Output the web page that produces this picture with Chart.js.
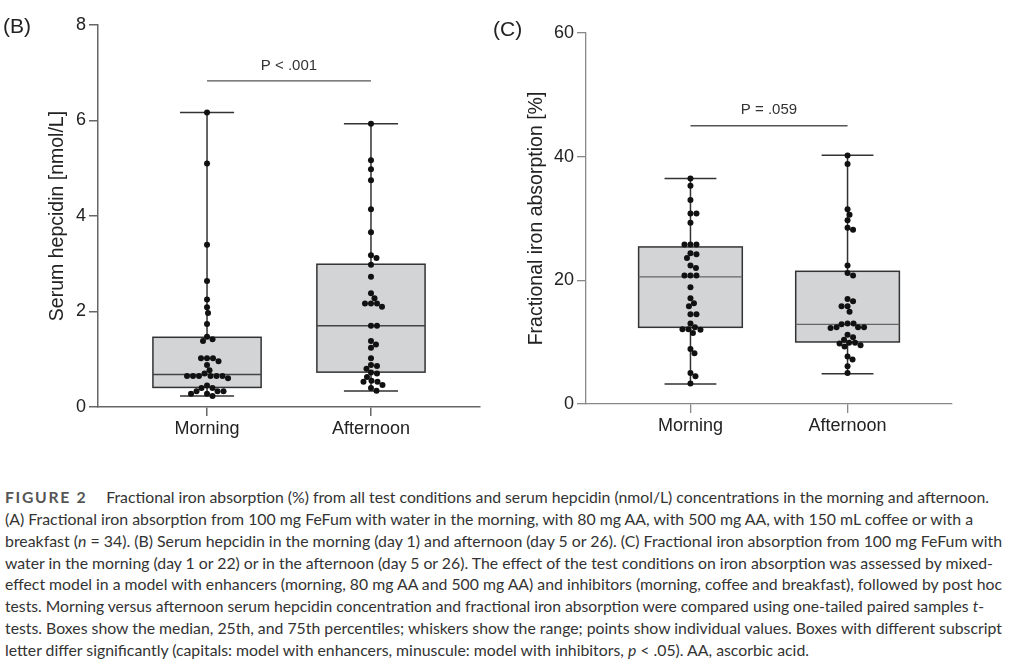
<!DOCTYPE html>
<html>
<head>
<meta charset="utf-8">
<script src="https://cdn.jsdelivr.net/npm/chart.js@4.4.1/dist/chart.umd.min.js"></script>
<style>
  html, body { margin: 0; padding: 0; background: #fff; }
  body { width: 1010px; height: 660px; position: relative; overflow: hidden; }
  .panel { position: absolute; top: 0; height: 460px; }
  .plabel { position: absolute; font-family: "Liberation Sans", Arial, sans-serif; font-size: 21px; color: #222; line-height: 24px; }
  .cap { position: absolute; left: 5px; white-space: nowrap; font-family: Lato, sans-serif; font-size: 15px; line-height: 20px; color: #333; transform-origin: 0 0; }
  .fig { font-weight: bold; color: #555; letter-spacing: 1.6px; margin-right: 18px; }
</style>
</head>
<body>
<div class="panel" style="left:0; width:490px;"><canvas id="chartB"></canvas></div>
<div class="panel" style="left:490px; width:520px;"><canvas id="chartC"></canvas></div>
<div class="plabel" style="left:3px; top:14px;">(B)</div>
<div class="plabel" style="left:493px; top:17px;">(C)</div>

<div class="cap" data-w="984" style="top:487px;"><span class="fig">FIGURE 2</span>Fractional iron absorption (%) from all test conditions and serum hepcidin (nmol/L) concentrations in the morning and afternoon.</div>
<div class="cap" data-w="968" style="top:509px;">(A) Fractional iron absorption from 100 mg FeFum with water in the morning, with 80 mg AA, with 500 mg AA, with 150 mL coffee or with a</div>
<div class="cap" data-w="997" style="top:531px;">breakfast (<i>n</i> = 34). (B) Serum hepcidin in the morning (day 1) and afternoon (day 5 or 26). (C) Fractional iron absorption from 100 mg FeFum with</div>
<div class="cap" data-w="988" style="top:553px;">water in the morning (day 1 or 22) or in the afternoon (day 5 or 26). The effect of the test conditions on iron absorption was assessed by mixed-</div>
<div class="cap" data-w="997" style="top:574px;">effect model in a model with enhancers (morning, 80 mg AA and 500 mg AA) and inhibitors (morning, coffee and breakfast), followed by post hoc</div>
<div class="cap" data-w="979" style="top:596px;">tests. Morning versus afternoon serum hepcidin concentration and fractional iron absorption were compared using one-tailed paired samples <i>t</i>-</div>
<div class="cap" data-w="997" style="top:618px;">tests. Boxes show the median, 25th, and 75th percentiles; whiskers show the range; points show individual values. Boxes with different subscript</div>
<div class="cap" data-w="804" style="top:640px;">letter differ significantly (capitals: model with enhancers, minuscule: model with inhibitors, <i>p</i> &lt; .05). AA, ascorbic acid.</div>

<script>
// ---------------- DATA ----------------
const categories = ['Morning', 'Afternoon'];

// Panel B: serum hepcidin [nmol/L]
const hepMorning = [6.17, 5.10, 3.40, 2.64, 2.25, 2.09, 1.97, 1.74, 1.47, 1.42, 1.38,
  1.02, 1.02, 1.02, 0.96, 0.88, 0.77, 0.70, 0.65, 0.65, 0.65, 0.65, 0.65, 0.65, 0.60,
  0.45, 0.40, 0.40, 0.33, 0.33, 0.33, 0.28, 0.28, 0.23];
const hepAfternoon = [5.93, 5.17, 4.98, 4.75, 4.14, 3.66, 3.18, 3.12, 2.98, 2.73,
  2.38, 2.28, 2.17, 2.17, 2.17, 2.10, 1.70, 1.70, 1.38, 1.31, 1.24, 1.02,
  0.88, 0.86, 0.80, 0.72, 0.70, 0.63, 0.55, 0.53, 0.53, 0.46, 0.40, 0.34];
const hepMin = [0.23, 0.335];
const hepQ1 = [0.41, 0.73];
const hepMedian = [0.68, 1.70];
const hepQ3 = [1.46, 2.99];
const hepMax = [6.17, 5.93];
const hepTicks = [0, 2, 4, 6, 8];
const hepPText = 'P < .001';
const hepPLevel = 6.83;

// Panel C: fractional iron absorption [%]
const fiaMorning = [36.45, 35.3, 33.0, 30.8, 30.8, 29.3, 25.8, 25.8, 25.8, 24.4, 24.2,
  23.6, 22.4, 22.0, 20.8, 20.8, 20.8, 18.9, 17.1, 16.3, 15.8, 14.5, 14.5, 13.0, 12.4,
  12.1, 12.1, 12.0, 11.5, 8.9, 8.2, 5.0, 4.5, 3.3];
const fiaAfternoon = [40.2, 38.8, 31.5, 30.6, 29.7, 28.5, 28.2, 22.4, 21.2, 20.8,
  17.0, 16.6, 15.8, 15.8, 14.9, 13.0, 13.0, 12.9, 12.4, 12.4, 12.4, 12.3, 11.2, 10.8,
  10.4, 9.9, 9.9, 9.8, 9.5, 9.3, 7.7, 7.2, 6.1, 5.0];
const fiaMin = [3.24, 4.9];
const fiaQ1 = [12.4, 10.03];
const fiaMedian = [20.55, 12.88];
const fiaQ3 = [25.4, 21.46];
const fiaMax = [36.45, 40.23];
const fiaTicks = [0, 20, 40, 60];
const fiaPText = 'P = .059';
const fiaPLevel = 45.0;

// ---------------- RENDERING ----------------
Chart.defaults.font.family = '"Liberation Sans", Arial, Helvetica, sans-serif';
Chart.defaults.color = '#222';

const BOX_HALF = 0.33, CAP_HALF = 0.165;

const boxPlugin = {
  id: 'boxes',
  beforeDatasetsDraw(chart, args, o) {
    const ctx = chart.ctx, xs = chart.scales.x, ys = chart.scales.y;
    ctx.save();
    for (let i = 0; i < categories.length; i++) {
      const xc = xs.getPixelForValue(i);
      const xl = xs.getPixelForValue(i - BOX_HALF), xr = xs.getPixelForValue(i + BOX_HALF);
      const cl = xs.getPixelForValue(i - CAP_HALF), cr = xs.getPixelForValue(i + CAP_HALF);
      const yMin = ys.getPixelForValue(o.min[i]), yQ1 = ys.getPixelForValue(o.q1[i]);
      const yMed = ys.getPixelForValue(o.median[i]), yQ3 = ys.getPixelForValue(o.q3[i]);
      const yMax = ys.getPixelForValue(o.max[i]);
      ctx.fillStyle = '#d3d4d6';
      ctx.fillRect(xl, yQ3, xr - xl, yQ1 - yQ3);
      ctx.strokeStyle = o.lineColor; ctx.lineWidth = 1.5;
      ctx.strokeRect(xl, yQ3, xr - xl, yQ1 - yQ3);
      ctx.strokeStyle = o.medColor; ctx.lineWidth = o.medWidth;
      ctx.beginPath(); ctx.moveTo(xl, yMed); ctx.lineTo(xr, yMed); ctx.stroke();
      ctx.strokeStyle = o.lineColor; ctx.lineWidth = 1.5;
      ctx.beginPath();
      ctx.moveTo(xc, yQ3); ctx.lineTo(xc, yMax);
      ctx.moveTo(xc, yQ1); ctx.lineTo(xc, yMin);
      ctx.moveTo(cl, yMax); ctx.lineTo(cr, yMax);
      ctx.moveTo(cl, yMin); ctx.lineTo(cr, yMin);
      ctx.stroke();
    }
    const yb = ys.getPixelForValue(o.pLevel);
    const x0 = xs.getPixelForValue(0), x1 = xs.getPixelForValue(1);
    ctx.strokeStyle = '#555'; ctx.lineWidth = 1.3;
    ctx.beginPath(); ctx.moveTo(x0, yb); ctx.lineTo(x1, yb); ctx.stroke();
    ctx.fillStyle = '#333';
    ctx.font = '15px "Liberation Sans", Arial, sans-serif';
    ctx.textAlign = 'center'; ctx.textBaseline = 'middle';
    ctx.fillText(o.pText, (x0 + x1) / 2, yb - 15.5);
    ctx.restore();
  }
};

function makeChart(id, opts) {
  const chart = new Chart(document.getElementById(id), {
    type: 'scatter',
    data: {
      datasets: [
        { data: [], pointRadius: 3, pointHoverRadius: 3, backgroundColor: '#111', borderColor: '#111', borderWidth: 0 },
        { data: [], pointRadius: 3, pointHoverRadius: 3, backgroundColor: '#111', borderColor: '#111', borderWidth: 0 }
      ]
    },
    options: {
      responsive: true, maintainAspectRatio: false, animation: false,
      events: [],
      layout: { padding: opts.padding },
      plugins: {
        legend: { display: false }, tooltip: { enabled: false },
        boxes: opts.box
      },
      scales: {
        x: {
          type: 'linear', min: -0.665, max: 1.665,
          afterBuildTicks: s => { s.ticks = categories.map((c, i) => ({ value: i })); },
          afterFit: s => { s.height = opts.xHeight; },
          ticks: { callback: v => categories[v], font: { size: 18 }, color: '#222', padding: 2, maxRotation: 0 },
          grid: { display: true, drawOnChartArea: false, drawTicks: true, tickLength: 9, color: opts.axisColor, lineWidth: opts.axisWidth },
          border: { display: true, color: opts.axisColor, width: opts.axisWidth }
        },
        y: {
          min: opts.ticks[0], max: opts.ticks[opts.ticks.length - 1],
          afterBuildTicks: s => { s.ticks = opts.ticks.map(v => ({ value: v })); },
          afterFit: s => { s.width = opts.yWidth; },
          ticks: { font: { size: 18 }, color: '#222', padding: 3 },
          grid: { display: true, drawOnChartArea: false, drawTicks: true, tickLength: 9, color: opts.axisColor, lineWidth: opts.axisWidth },
          border: { display: true, color: opts.axisColor, width: opts.axisWidth },
          title: { display: true, text: opts.yTitle, font: { size: 19.5 }, color: '#222', padding: { top: 3, bottom: 4 } }
        }
      }
    },
    plugins: [boxPlugin]
  });
  // beeswarm layout computed in pixel space from the chart's own scales
  const xs = chart.scales.x, ys = chart.scales.y;
  const unit = xs.getPixelForValue(1) - xs.getPixelForValue(0);
  const d = 5.8;
  opts.series.forEach((vals, ci) => {
    const order = vals.map((v, k) => k).sort((a, b) => vals[b] - vals[a]);
    const placed = [];
    const pts = [];
    order.forEach(k => {
      const py = ys.getPixelForValue(vals[k]);
      let dx = 0;
      for (let step = 0; step < 200; step++) {
        const cand = (step % 2 === 1 ? 1 : -1) * Math.ceil(step / 2) * 0.5;
        const hit = placed.some(p => (p.dx - cand) ** 2 + (p.py - py) ** 2 < d * d);
        if (!hit) { dx = cand; break; }
      }
      placed.push({ dx, py });
      pts.push({ x: ci + dx / unit, y: vals[k] });
    });
    chart.data.datasets[ci].data = pts;
  });
  chart.update('none');
  return chart;
}

makeChart('chartB', {
  padding: { left: 43, right: 10, top: 25, bottom: 0 },
  xHeight: 53, yWidth: 55, ticks: hepTicks,
  yTitle: 'Serum hepcidin [nmol/L]',
  axisColor: '#666', axisWidth: 1.5,
  series: [hepMorning, hepAfternoon],
  box: { min: hepMin, q1: hepQ1, median: hepMedian, q3: hepQ3, max: hepMax,
         pLevel: hepPLevel, pText: hepPText, lineColor: '#333', medColor: '#444', medWidth: 1.5 }
});

makeChart('chartC', {
  padding: { left: 32, right: 58, top: 33, bottom: 0 },
  xHeight: 56, yWidth: 64, ticks: fiaTicks,
  yTitle: 'Fractional iron absorption [%]',
  axisColor: '#888', axisWidth: 1.3,
  series: [fiaMorning, fiaAfternoon],
  box: { min: fiaMin, q1: fiaQ1, median: fiaMedian, q3: fiaQ3, max: fiaMax,
         pLevel: fiaPLevel, pText: fiaPText, lineColor: '#333', medColor: '#666', medWidth: 1.2 }
});

document.querySelectorAll('.cap').forEach(el => {
  const w = el.getBoundingClientRect().width;
  const target = +el.dataset.w;
  el.style.transform = 'scaleX(' + (target / w).toFixed(4) + ')';
});
</script>
</body>
</html>
